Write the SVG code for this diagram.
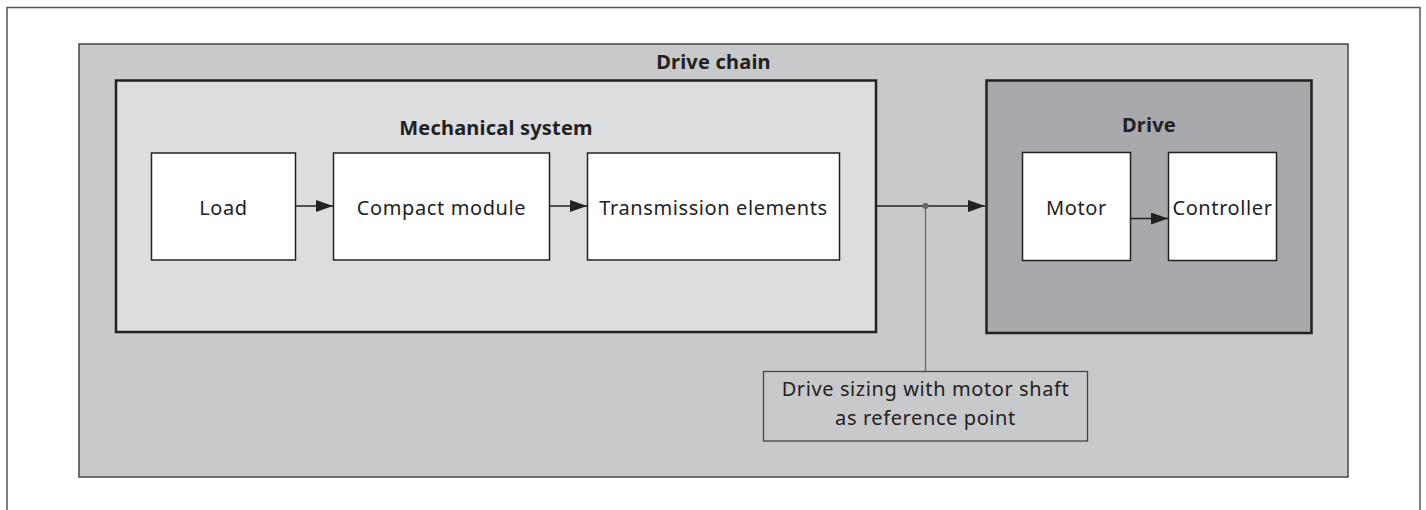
<svg xmlns="http://www.w3.org/2000/svg" width="1426" height="510" viewBox="0 0 1426 510">
<defs>
<style>
.t{font-family:"Noto Sans","Open Sans",sans-serif;font-size:20px;fill:#222;text-anchor:middle;letter-spacing:0.6px}
.b{font-family:"Noto Sans","Open Sans",sans-serif;font-size:20px;font-weight:bold;fill:#222;text-anchor:middle;letter-spacing:0.2px}
.box{fill:#fff;stroke:#222;stroke-width:1.5}
.ln{stroke:#222;stroke-width:1.3;fill:none}
</style>
<marker id="ah" viewBox="0 0 17 12" markerWidth="17" markerHeight="12" refX="17" refY="6" orient="auto" markerUnits="userSpaceOnUse">
<path d="M0,0 L17,6 L0,12 Z" fill="#222"/>
</marker>
</defs>
<rect x="0" y="0" width="1426" height="510" fill="#fff"/>
<path d="M7,512 V7.5 H1420 V512" fill="none" stroke="#555" stroke-width="1.5"/>
<g id="drive-chain">
<rect x="79" y="44" width="1269" height="433" fill="#c8c9cb" stroke="#444" stroke-width="1.5"/>
<text class="b" x="713.5" y="69">Drive chain</text>
</g>
<g id="mechanical-system">
<rect x="116" y="80.5" width="760" height="251.5" fill="#dcdddf" stroke="#222" stroke-width="2.5"/>
<text class="b" x="496" y="135">Mechanical system</text>
</g>
<g id="drive">
<rect x="986.5" y="80.5" width="325" height="252.5" fill="#a8a9ad" stroke="#222" stroke-width="2.5"/>
<text class="b" x="1149" y="132">Drive</text>
</g>
<g id="load">
<rect class="box" x="151.5" y="153" width="144" height="107"/>
<text class="t" x="223.5" y="215">Load</text>
</g>
<g id="compact-module">
<rect class="box" x="333.5" y="153" width="216" height="107"/>
<text class="t" x="441.5" y="215">Compact module</text>
</g>
<g id="transmission-elements">
<rect class="box" x="587.5" y="153" width="252" height="107"/>
<text class="t" x="713.5" y="215">Transmission elements</text>
</g>
<g id="motor">
<rect class="box" x="1022.5" y="152.5" width="108" height="108"/>
<text class="t" x="1076.5" y="215">Motor</text>
</g>
<g id="controller">
<rect class="box" x="1168.5" y="152.5" width="108" height="108"/>
<text class="t" x="1222.5" y="215">Controller</text>
</g>
<g id="note">
<rect x="763.5" y="371.5" width="324" height="69.5" fill="none" stroke="#444" stroke-width="1.3"/>
<text class="t" x="925.5" y="396">Drive sizing with motor shaft</text>
<text class="t" x="925.5" y="425">as reference point</text>
</g>
<g id="connectors">
<line class="ln" x1="295.5" y1="206" x2="333" y2="206" marker-end="url(#ah)"/>
<line class="ln" x1="549.5" y1="206" x2="587" y2="206" marker-end="url(#ah)"/>
<line class="ln" x1="877" y1="206" x2="985" y2="206" marker-end="url(#ah)"/>
<line x1="925.5" y1="206" x2="925.5" y2="371" stroke="#666" stroke-width="1.3"/>
<circle cx="925.5" cy="206" r="3" fill="#666"/>
<line class="ln" x1="1130.5" y1="218.5" x2="1168" y2="218.5" marker-end="url(#ah)"/>
</g>
</svg>
